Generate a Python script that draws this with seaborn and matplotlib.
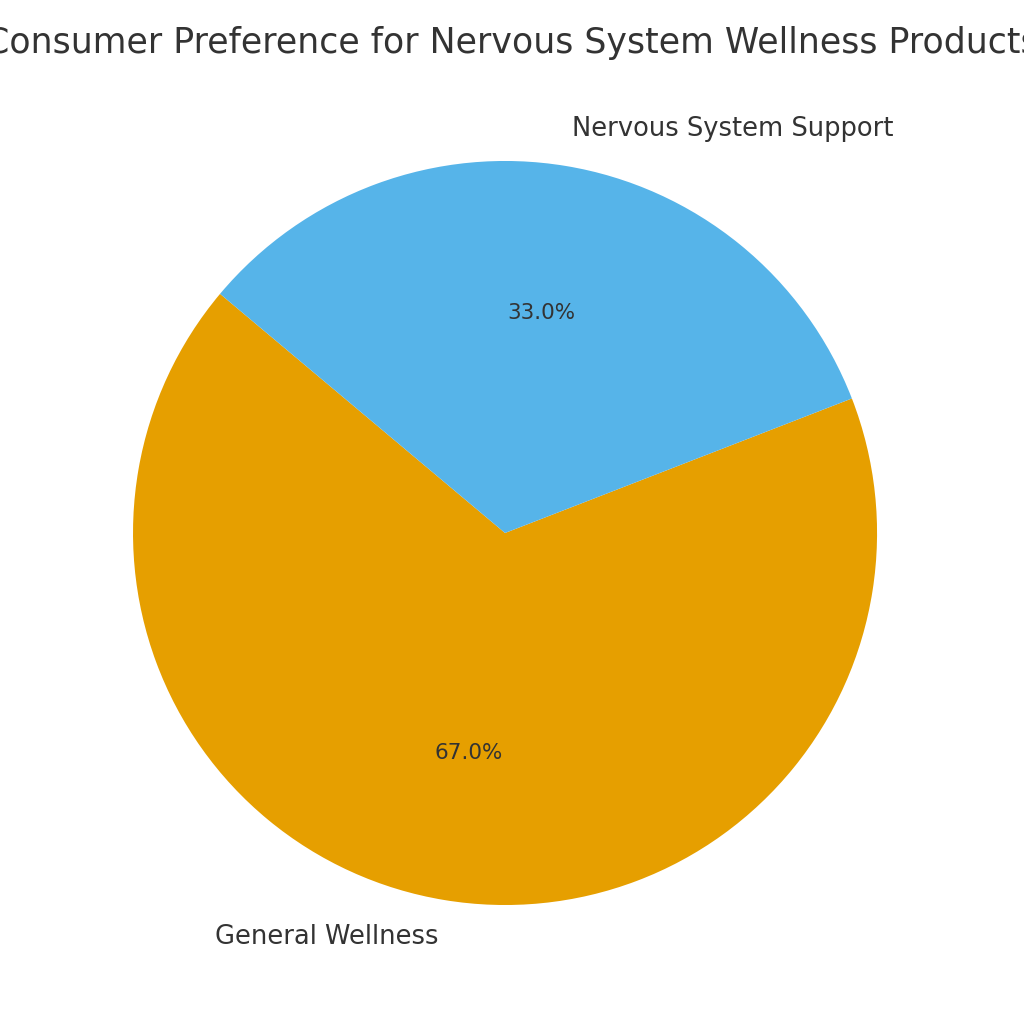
import matplotlib
matplotlib.use("Agg")
import matplotlib.pyplot as plt
import seaborn as sns

sns.set_theme(style="white")
plt.rcParams['font.family'] = ['DejaVu Sans']

categories = ["General Wellness", "Nervous System Support"]
values = [67.0, 33.0]
colors = ["#E69F00", "#56B4E9"]

fig = plt.figure(figsize=(10.24, 10.24), dpi=100)
ax = fig.add_axes([0.1299, 0.1162, 0.7266, 0.7266])
wedges, texts, autotexts = ax.pie(values, labels=categories, colors=colors,
                                  autopct="%1.1f%%", startangle=140,
                                  wedgeprops={"linewidth": 0},
                                  textprops={"color": "#333333", "fontsize": 18.5})
for t in texts:
    t.set_fontsize(18.5)
    t.set_clip_on(False)
for t in autotexts:
    t.set_fontsize(15.5)
ax.set_xlim(-1, 1)
ax.set_ylim(-1, 1)
ax.set_aspect("equal")
fig.text(0.5, 1 - 43 / 1024, "Consumer Preference for Nervous System Wellness Products",
         fontsize=25, color="#333333", ha="center", va="center")
fig.savefig("out.png", dpi=100)
